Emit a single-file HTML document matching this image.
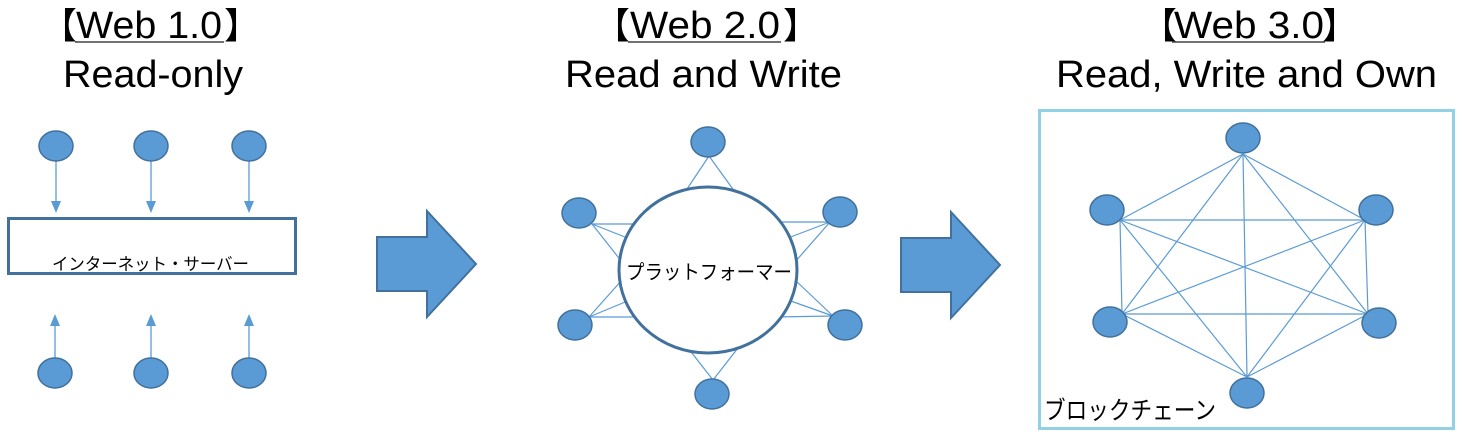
<!DOCTYPE html>
<html><head><meta charset="utf-8"><style>
html,body{margin:0;padding:0;background:#fff;}
svg{display:block;}
text{font-family:"Liberation Sans","Noto Sans CJK JP",sans-serif;fill:#000;}
</style></head><body>
<svg width="1463" height="438" viewBox="0 0 1463 438" xmlns="http://www.w3.org/2000/svg">
<defs>
<g id="nd"><ellipse cx="0" cy="0" rx="17" ry="15" fill="#5b9bd5" stroke="#41719c" stroke-width="1.5"/></g>
</defs>
<!-- Titles -->
<text x="41" y="38" font-size="36" font-family="Noto Sans CJK JP">【</text>
<text x="76" y="38" font-size="38" textLength="146" lengthAdjust="spacingAndGlyphs">Web 1.0</text>
<text x="224" y="38" font-size="36" font-family="Noto Sans CJK JP">】</text>
<line x1="75" y1="42" x2="224" y2="42" stroke="#444" stroke-width="1.5"/>
<text x="63" y="87" font-size="38" textLength="180" lengthAdjust="spacingAndGlyphs">Read-only</text>

<text x="594" y="38" font-size="36" font-family="Noto Sans CJK JP">【</text>
<text x="630" y="38" font-size="38" textLength="150" lengthAdjust="spacingAndGlyphs">Web 2.0</text>
<text x="783" y="38" font-size="36" font-family="Noto Sans CJK JP">】</text>
<line x1="628" y1="42" x2="781" y2="42" stroke="#444" stroke-width="1.5"/>
<text x="565" y="87" font-size="38" textLength="277" lengthAdjust="spacingAndGlyphs">Read and Write</text>

<text x="1141" y="38" font-size="36" font-family="Noto Sans CJK JP">【</text>
<text x="1174" y="38" font-size="38" textLength="150" lengthAdjust="spacingAndGlyphs">Web 3.0</text>
<text x="1322" y="38" font-size="36" font-family="Noto Sans CJK JP">】</text>
<line x1="1172" y1="42" x2="1325" y2="42" stroke="#444" stroke-width="1.5"/>
<text x="1056" y="87" font-size="38" textLength="381" lengthAdjust="spacingAndGlyphs">Read, Write and Own</text>

<!-- Web 1.0 -->
<g stroke="#5b9bd5" stroke-width="1.3">
<line x1="56" y1="161" x2="56" y2="202"/><line x1="151" y1="161" x2="151" y2="202"/><line x1="249" y1="161" x2="249" y2="202"/>
<line x1="55" y1="358" x2="55" y2="325"/><line x1="151" y1="358" x2="151" y2="325"/><line x1="249" y1="358" x2="249" y2="325"/>
</g>
<g fill="#5b9bd5">
<polygon points="51,201 61,201 56,213"/><polygon points="146,201 156,201 151,213"/><polygon points="244,201 254,201 249,213"/>
<polygon points="50,326 60,326 55,314"/><polygon points="146,326 156,326 151,314"/><polygon points="244,326 254,326 249,314"/>
</g>
<rect x="8.5" y="218.5" width="287" height="55" fill="#fff" stroke="#41719c" stroke-width="3"/>
<text x="52" y="270" font-size="17" textLength="197" lengthAdjust="spacingAndGlyphs">インターネット・サーバー</text>
<use href="#nd" x="56" y="146"/><use href="#nd" x="151" y="146"/><use href="#nd" x="249" y="146"/>
<use href="#nd" x="55" y="373"/><use href="#nd" x="151" y="373"/><use href="#nd" x="249" y="373"/>

<!-- Big arrows -->
<polygon points="377,237 427,237 427,211 476,264 427,317 427,291 377,291" fill="#5b9bd5" stroke="#41719c" stroke-width="2"/>
<polygon points="901,238 951,238 951,212 1000,265 951,318 951,292 901,292" fill="#5b9bd5" stroke="#41719c" stroke-width="2"/>

<!-- Web 2.0 -->
<g stroke="#5b9bd5" stroke-width="1.2">
<line x1="709" y1="156" x2="685" y2="192"/><line x1="709" y1="156" x2="735" y2="192"/>
<line x1="592" y1="224" x2="640" y2="224"/><line x1="592" y1="224" x2="630" y2="239"/><line x1="592" y1="224" x2="622" y2="262"/>
<line x1="589" y1="317" x2="640" y2="317"/><line x1="589" y1="317" x2="630" y2="300"/><line x1="589" y1="317" x2="622" y2="280"/>
<line x1="830" y1="222" x2="775" y2="222"/><line x1="830" y1="222" x2="788" y2="238"/><line x1="830" y1="222" x2="795" y2="262"/>
<line x1="833" y1="316" x2="775" y2="317"/><line x1="833" y1="316" x2="788" y2="300"/><line x1="833" y1="316" x2="795" y2="280"/>
<line x1="713" y1="380" x2="688" y2="348"/><line x1="713" y1="380" x2="738" y2="348"/>
</g>
<ellipse cx="708" cy="270" rx="89" ry="83" fill="#fff" stroke="#41719c" stroke-width="3"/>
<text x="626" y="279" font-size="20" textLength="166" lengthAdjust="spacingAndGlyphs">プラットフォーマー</text>
<use href="#nd" x="708" y="142"/><use href="#nd" x="579" y="213"/><use href="#nd" x="840" y="212"/>
<use href="#nd" x="575" y="325"/><use href="#nd" x="845" y="325"/><use href="#nd" x="712" y="394"/>

<!-- Web 3.0 -->
<rect x="1039.5" y="110.5" width="414" height="318" fill="none" stroke="#92d0e4" stroke-width="3"/>
<g stroke="#5b9bd5" stroke-width="1.2">
<line x1="1243" y1="154" x2="1120" y2="220"/><line x1="1243" y1="154" x2="1365" y2="220"/><line x1="1243" y1="154" x2="1122" y2="314"/><line x1="1243" y1="154" x2="1368" y2="314"/><line x1="1243" y1="154" x2="1247" y2="377"/>
<line x1="1120" y1="220" x2="1365" y2="220"/><line x1="1120" y1="220" x2="1122" y2="314"/><line x1="1120" y1="220" x2="1368" y2="314"/><line x1="1120" y1="220" x2="1247" y2="377"/>
<line x1="1365" y1="220" x2="1122" y2="314"/><line x1="1365" y1="220" x2="1368" y2="314"/><line x1="1365" y1="220" x2="1247" y2="377"/>
<line x1="1122" y1="314" x2="1368" y2="314"/><line x1="1122" y1="314" x2="1247" y2="377"/>
<line x1="1368" y1="314" x2="1247" y2="377"/>
</g>
<use href="#nd" x="1243" y="138"/><use href="#nd" x="1107" y="210"/><use href="#nd" x="1376" y="210"/>
<use href="#nd" x="1110" y="322"/><use href="#nd" x="1379" y="323"/><use href="#nd" x="1247" y="393"/>
<text x="1044" y="419" font-size="25" textLength="172" lengthAdjust="spacingAndGlyphs">ブロックチェーン</text>
</svg>
</body></html>
